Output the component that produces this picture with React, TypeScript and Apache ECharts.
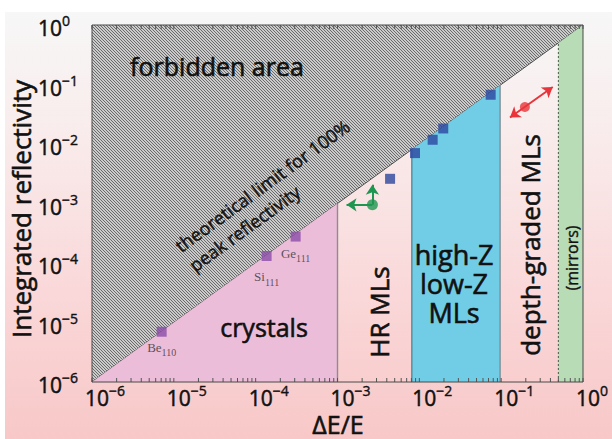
import React, { useEffect, useRef } from 'react';
import * as echarts from 'echarts';

// ---- axis ticks ----
const xTickValues = [1e-6, 1e-5, 1e-4, 1e-3, 1e-2, 1e-1, 1];
const tickExponents = ['−6', '−5', '−4', '−3', '−2', '−1', '0'];
const minorMantissas = [2, 3, 4, 5, 6, 7, 8, 9];

// ---- crystals ----
const crystalNames = ['Be', 'Si', 'Ge'];
const crystalSubs = ['110', '111', '111'];
const crystalX = [7.1e-6, 1.36e-4, 3.08e-4];
const crystalY = [7.0e-6, 1.31e-4, 2.78e-4];
const crystalLabelGap = [7, 12, 8];

// ---- multilayers ----
const mlX = [0.00439, 0.00885, 0.01455, 0.0196, 0.0744];
const mlY = [0.0026, 0.00703, 0.01178, 0.01824, 0.0673];

// ---- regions (below the 100% line) ----
const regionNames = ['crystals', 'HR MLs', 'high-Z low-Z MLs', 'depth-graded MLs', '(mirrors)'];
const regionFrom = [1e-6, 1e-3, 0.0081, 0.097, 0.5];
const regionTo = [1e-3, 0.0081, 0.097, 0.5, 1];
const regionFill = ['#ecbdd9', 'none', '#71cde5', 'none', '#b7dcb6'];
const boundaryX = [1e-3, 0.0081, 0.097, 0.5];
const boundaryColor = ['#8d8d8d', '#4e8c9f', '#7e8d95', '#4a5a4a'];
const boundaryDash = [false, false, false, true];

// ---- arrows ----
const redFrom = [0.128, 0.0279];
const redTo = [0.427, 0.0906];
const redDot = [0.195, 0.0418];
const greenDot = [0.00267, 9.5e-4];
const greenLeftTip = [0.00129, 9.5e-4];
const greenUpTip = [0.00267, 0.00206];

const AX_MIN = 1e-6;
const AX_MAX = 1;

const FONT = '"Open Sans", "Noto Sans", sans-serif';
const SERIF = '"Liberation Serif", "DejaVu Serif", serif';
const INK = '#111';

// rich styles for the y axis (ECharts label model)
const yRich = {
  b: { fontSize: 21, lineHeight: 21, padding: [6, 0, 0, 0], fontFamily: FONT, color: INK, textBorderColor: INK, textBorderWidth: 0.5 },
  e: { fontSize: 14, lineHeight: 14, padding: [2, 0, 11, 0], fontFamily: FONT, color: INK, textBorderColor: INK, textBorderWidth: 0.4 },
};
// rich styles for the x labels (raw zrender text in a custom series)
const xRich = {
  b: { fontSize: 21, lineHeight: 21, padding: [6, 0, 0, 0], fontFamily: FONT, fill: INK, stroke: INK, lineWidth: 0.5 },
  e: { fontSize: 14, lineHeight: 14, padding: [2, 0, 11, 0], fontFamily: FONT, fill: INK, stroke: INK, lineWidth: 0.4 },
};

const txt = (text: string, x: number, y: number, size: number, rot = 0, extra: any = {}) => ({
  type: 'text', z: 100, x, y, rotation: rot,
  style: {
    text, fontSize: size, fontFamily: FONT, fill: INK, stroke: INK, lineWidth: 0.6,
    align: 'center', verticalAlign: 'middle', textAlign: 'center', textVerticalAlign: 'middle', ...extra,
  },
});

export default function App() {
  const ref = useRef<HTMLDivElement>(null);
  useEffect(() => {
    const chart = echarts.init(ref.current!, null, { renderer: 'svg' });
    const hatch = document.createElement('canvas');
    hatch.width = 3;
    hatch.height = 3;
    const ctx = hatch.getContext('2d')!;
    ctx.fillStyle = '#cbcbcb';
    ctx.fillRect(0, 0, 3, 3);
    ctx.fillStyle = '#6a6a6a';
    for (let i = 0; i < 3; i++) ctx.fillRect(i, i, 1, 1);

    const minorTicks: number[] = [];
    xTickValues.slice(0, -1).forEach((d) => minorMantissas.forEach((m) => minorTicks.push(m * d)));
    const allTicks = xTickValues.concat(minorTicks);

    const option: any = {
      animation: false,
      backgroundColor: 'transparent',
      grid: { left: 92, top: 25, width: 491, height: 357, containLabel: false },
      xAxis: {
        type: 'log', logBase: 10, min: AX_MIN, max: AX_MAX, splitNumber: 6,
        axisLine: { show: false }, axisTick: { show: false }, splitLine: { show: false },
        axisLabel: { show: false },
      },
      yAxis: {
        type: 'log', logBase: 10, min: AX_MIN, max: AX_MAX, splitNumber: 6,
        axisLine: { show: false }, axisTick: { show: false }, splitLine: { show: false },
        axisLabel: {
          show: true, margin: 54, align: 'left',
          formatter: (v: number) => {
            const i = Math.round(Math.log10(v)) + 6;
            return `{b|10}{e|${tickExponents[i]}}`;
          },
          rich: yRich,
        },
      },
      series: [
        {
          type: 'custom', name: 'forbidden area', z: 1, silent: true,
          data: [[AX_MIN, AX_MAX]],
          renderItem: (params: any, api: any) => {
            const lo = api.value(0), hi = api.value(1);
            const a = api.coord([lo, lo]);
            const b = api.coord([hi, hi]);
            const c = api.coord([lo, hi]);
            return {
              type: 'group', children: [
                { type: 'polygon', shape: { points: [a, b, c] }, style: { fill: { image: hatch, repeat: 'repeat' } } },
                { type: 'line', shape: { x1: a[0], y1: a[1], x2: b[0], y2: b[1] }, style: { stroke: '#505050', lineWidth: 1 } },
              ],
            };
          },
        },
        {
          type: 'custom', name: 'regions', z: 2, silent: true,
          data: regionFrom.map((f, i) => [f, regionTo[i], i]),
          renderItem: (params: any, api: any) => {
            const f = api.value(0), t = api.value(1), i = api.value(2);
            const pts = [api.coord([f, AX_MIN]), api.coord([t, AX_MIN]), api.coord([t, t]), api.coord([f, f])];
            return { type: 'polygon', shape: { points: pts }, style: { fill: regionFill[i], stroke: 'none' } };
          },
        },
        {
          type: 'custom', name: 'boundaries', z: 3, silent: true,
          data: boundaryX.map((x, i) => [x, x, i]),
          renderItem: (params: any, api: any) => {
            const x = api.value(0), i = api.value(2);
            const p = api.coord([x, AX_MIN]);
            const q = api.coord([x, x]);
            return {
              type: 'line', shape: { x1: p[0], y1: p[1], x2: q[0], y2: q[1] },
              style: { stroke: boundaryColor[i], lineWidth: boundaryDash[i] ? 1 : 1.4, lineDash: boundaryDash[i] ? [2, 2] : null },
            };
          },
        },
        {
          type: 'custom', name: 'ticks', z: 6, silent: true,
          data: allTicks.map((v) => [v, AX_MIN]),
          renderItem: (params: any, api: any) => {
            const v = api.value(0);
            const p = api.coord([v, AX_MIN]);
            const q = api.coord([v, AX_MAX]);
            return {
              type: 'group', children: [
                { type: 'line', shape: { x1: p[0], y1: p[1], x2: p[0], y2: p[1] - 4 }, style: { stroke: '#555', lineWidth: 1 } },
                { type: 'line', shape: { x1: q[0], y1: q[1], x2: q[0], y2: q[1] + 4 }, style: { stroke: '#555', lineWidth: 1 } },
              ],
            };
          },
        },
        {
          type: 'custom', name: 'xlabels', z: 6, silent: true,
          data: xTickValues.map((v, i) => [v, AX_MIN, i]),
          renderItem: (params: any, api: any) => {
            const v = api.value(0), i = api.value(2);
            const p = api.coord([v, AX_MIN]);
            return {
              type: 'text', x: p[0] - 7, y: p[1] + 2,
              style: { text: `{b|10}{e|${tickExponents[i]}}`, rich: xRich, align: 'left', verticalAlign: 'top', fill: INK },
            };
          },
        },
        {
          type: 'scatter', name: 'crystals', z: 8, symbol: 'rect', symbolSize: 10,
          itemStyle: { color: '#8b4ca7' },
          data: crystalX.map((x, i) => ({ value: [x, crystalY[i]], label: { distance: crystalLabelGap[i] } })),
          label: {
            show: true, position: 'bottom',
            formatter: (p: any) => `{n|${crystalNames[p.dataIndex]}}{s|${crystalSubs[p.dataIndex]}}`,
            rich: {
              n: { fontFamily: SERIF, fontSize: 13, lineHeight: 13, padding: [0, 0, 6, 0], color: '#333' },
              s: { fontFamily: SERIF, fontSize: 10, lineHeight: 10, padding: [7, 0, 2, 0], color: '#333' },
            },
          },
        },
        {
          type: 'scatter', name: 'multilayers', z: 8, symbol: 'rect', symbolSize: 10,
          itemStyle: { color: '#2c469f' },
          data: mlX.map((x, i) => [x, mlY[i]]),
        },
        {
          type: 'lines', coordinateSystem: 'cartesian2d', z: 9, silent: true,
          symbol: ['arrow', 'arrow'], symbolSize: 10,
          lineStyle: { color: '#e8343a', width: 2, opacity: 1, curveness: 0 },
          data: [{ coords: [redFrom, redTo] }],
        },
        {
          type: 'lines', coordinateSystem: 'cartesian2d', z: 9, silent: true,
          symbol: ['none', 'arrow'], symbolSize: 10,
          lineStyle: { color: '#1f9650', width: 2, opacity: 1, curveness: 0 },
          data: [{ coords: [greenDot, greenLeftTip] }, { coords: [greenDot, greenUpTip] }],
        },
        {
          type: 'scatter', z: 10, symbol: 'circle', symbolSize: 10, silent: true,
          itemStyle: { color: '#e8343a' }, data: [redDot],
        },
        {
          type: 'scatter', z: 10, symbol: 'circle', symbolSize: 11, silent: true,
          itemStyle: { color: '#1f9650' }, data: [greenDot],
        },
      ],
      graphic: [
        { type: 'rect', z: 100, shape: { x: 92, y: 25, width: 491, height: 357 }, style: { fill: 'none', stroke: '#4a4a4a', lineWidth: 1 } },
        txt('forbidden area', 217, 66, 25),
        txt('theoretical limit for 100%\npeak reflectivity', 170, 238, 18, (36 * Math.PI) / 180, { lineHeight: 24, align: 'left', verticalAlign: 'top', textAlign: 'left', textVerticalAlign: 'top', lineWidth: 0.4 }),
        txt(regionNames[0], 264, 327, 25),
        txt(regionNames[1], 379, 312, 26, Math.PI / 2),
        txt('high-Z\nlow-Z\nMLs', 454, 283, 27, 0, { lineHeight: 29 }),
        txt(regionNames[3], 530, 245, 26, Math.PI / 2),
        txt(regionNames[4], 572, 258, 16, Math.PI / 2, { lineWidth: 0.4 }),
        txt('Integrated reflectivity', 21, 209, 26, Math.PI / 2),
        txt('ΔE/E', 338, 424, 25),
      ],
    };
    chart.setOption(option);
    return () => chart.dispose();
  }, []);
  return (
    <div style={{ position: 'fixed', left: 0, top: 0, width: 612, height: 439, background: '#ffffff' }}>
      <div style={{ position: 'absolute', left: 5, top: 12, width: 607, height: 427, background: 'linear-gradient(to bottom, #f7f7f7 0%, #f9ebeb 30%, #fad8d9 65%, #f8c8c8 100%)' }} />
      <div ref={ref} style={{ position: 'absolute', left: 0, top: 0, width: 612, height: 439 }} />
    </div>
  );
}
